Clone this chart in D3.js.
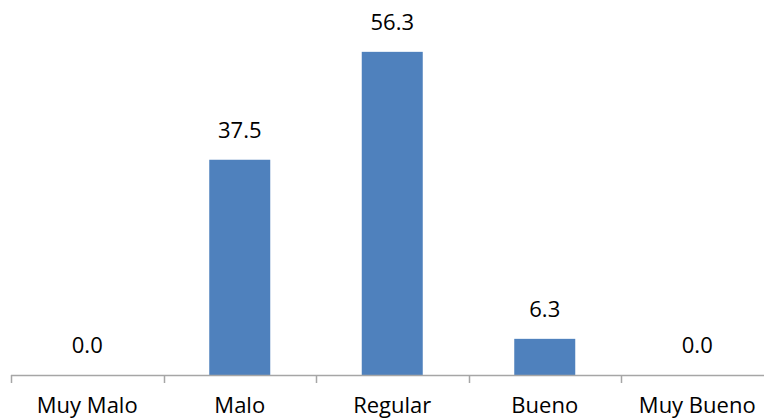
<!DOCTYPE html>
<html>
<head>
<meta charset="utf-8">
<script src="https://cdn.jsdelivr.net/npm/d3@7"></script>
<style>
  body { margin: 0; background: #fff; }
  svg text { font-family: "Open Sans", sans-serif; fill: #000; }
</style>
</head>
<body>
<svg width="764" height="419"></svg>
<script>
// data
var categories = ["Muy Malo", "Malo", "Regular", "Bueno", "Muy Bueno"];
var values = [0.0, 37.5, 56.3, 6.3, 0.0];

var svg = d3.select("svg");

//==================================================
// scales
var x = d3.scaleBand()
    .domain(categories)
    .range([11, 773.5])
    .paddingInner(0.6)
    .paddingOuter(0.3);

var y = d3.scaleLinear()
    .domain([0, 60])
    .range([375, 30.6]);

var step = x.step();

//==================================================
// bars
svg.append("g")
    .selectAll("rect")
    .data(values)
    .enter().append("rect")
    .attr("x", function(d, i) { return x(categories[i]); })
    .attr("y", function(d) { return y(d); })
    .attr("width", x.bandwidth())
    .attr("height", function(d) { return y(0) - y(d); })
    .style("fill", "#4f81bd");

// value labels
svg.append("g")
    .selectAll("text")
    .data(values)
    .enter().append("text")
    .attr("x", function(d, i) { return x(categories[i]) + x.bandwidth() / 2; })
    .attr("y", function(d) { return y(d) - 22; })
    .attr("text-anchor", "middle")
    .style("font-size", "22px")
    .text(function(d) { return d.toFixed(1); });

//==================================================
// x axis: line with ticks at category boundaries
var axis = svg.append("g").attr("class", "x-axis");
axis.append("line")
    .attr("x1", x.range()[0]).attr("x2", x.range()[1])
    .attr("y1", y(0) + 0.5).attr("y2", y(0) + 0.5)
    .style("stroke", "#a6a6a6").style("stroke-width", 1.5);

var bounds = d3.range(categories.length + 1).map(function(i) { return x.range()[0] + i * step; });
axis.selectAll(".tick-mark")
    .data(bounds)
    .enter().append("line")
    .attr("class", "tick-mark")
    .attr("x1", function(d) { return Math.round(d) + 0.5; })
    .attr("x2", function(d) { return Math.round(d) + 0.5; })
    .attr("y1", y(0))
    .attr("y2", y(0) + 8)
    .style("stroke", "#a6a6a6").style("stroke-width", 1.5);

axis.selectAll(".cat")
    .data(categories)
    .enter().append("text")
    .attr("class", "cat")
    .attr("x", function(d) { return x(d) + x.bandwidth() / 2; })
    .attr("y", 413)
    .attr("text-anchor", "middle")
    .style("font-size", "22px")
    .text(function(d) { return d; });
</script>
</body>
</html>
